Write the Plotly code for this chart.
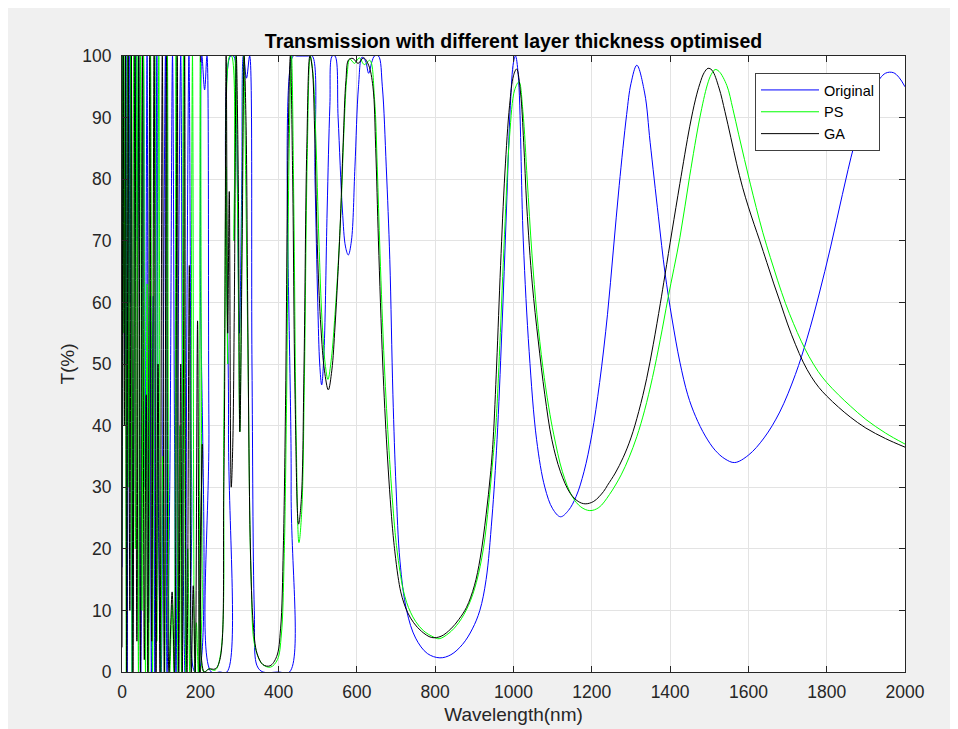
import plotly.graph_objects as go

# ---------------- data ----------------
wl_orig = [0,4,7,10,13,18,20,23,26,31,36,39,42,48,55,59,64,68,72,75,80,84,89,94,100,105,111,115,122,129,134,138,144,150,156,161,166,171,178,186,195,200,204,211,217,222,228,250,268,272,277,285,292,300,306,310,318,326,332,338,345,360,400,428,432,437,447,460,475,486,493,500,505,510,516,524,531,537,544,552,563,571,578,586,595,604,613,622,630,638,645,655,665,675,684,692,700,710,727,750,780,812,840,870,895,914,930,945,958,970,982,992,1000,1005,1012,1025,1040,1059,1080,1100,1120,1140,1160,1180,1200,1220,1240,1255,1270,1289,1300,1315,1335,1349,1370,1387,1405,1425,1445,1465,1490,1515,1540,1565,1600,1640,1680,1720,1750,1780,1810,1840,1870,1900,1925,1950,1970,1985,2000]
t_orig = [17,100,50,100,0,100,60,100,0,45,100,70,100,0,100,30,100,8,61,0,61,0,100,20,0,45,100,0,30,100,40,0,60,100,20,0,60,100,30,0,0,70,100,94.5,100,40,0,0,0,40,100,100,90,55,80,100,96.4,100,50,10,1,0,0,0,30,100,100,100,100,100,80,60,50,46.6,52,75,92,100,100,90,75,69,67.7,70,82,95,99.8,99.2,97.2,99,100,100,95,82,67,45,30,18,10,5.5,3,2.3,2.8,4.5,7,10,15,25,37.7,55,75,92,99,100,97,70,52,37.7,30,26.5,25.2,26.2,28.5,32.5,38.5,47,58,68.5,79,90.5,95.5,98.5,94,86,74,64.8,57.3,50.3,45,41.5,38.3,36,34.6,34,35.2,38,42.2,48.3,54.2,61.2,69,77.5,85.5,91.8,95.3,97.2,97.3,96.5,95]

wl_ps = [0,2,5,8,11,14,18,22,26,30,34,38,42,47,51,55,60,64,68,73,78,84,89,94,99,104,109,116,122,128,133,138,143,148,152,157,163,168,173,180,186,190,195,200,205,209,222,238,252,260,266,270,275,280,286,290,296,301,306,311,316,322,330,340,360,380,397,407,414,420,427,433,439,445,452,459,466,473,481,488,495,503,511,519,526,535,544,552,560,567,575,582,594,606,619,633,645,652,659,670,682,695,702,710,718,727,737,750,770,795,810,835,860,885,905,923,937,948,955,965,977,990,1003,1014,1024,1035,1047,1060,1075,1090,1103,1125,1150,1172,1195,1218,1245,1275,1295,1315,1335,1355,1375,1395,1425,1450,1476,1495,1505,1515,1525,1545,1560,1575,1590,1605,1620,1637,1656,1675,1695,1715,1735,1755,1778,1800,1830,1860,1900,1950,2000]
t_ps = [20,100,55,100,0,100,30,100,0,100,20,100,0,100,10,100,0,63,0,100,0,100,5,100,0,35,0,100,0,11,0,100,0,40,0,100,0,20,0,100,0,8,0,100,15,0,0.5,0.3,3,40,82,50,100,100,70,100,70,39,70,100,80,50,15,4,1.2,0.8,2,6,18,42,85,100,75,38,21,26,48,83,100,97,87,70,57,50,47.5,51,58,66,76,88,97,99.5,98.8,99.7,98.6,99.3,93,82,68,50,36,24.5,20,16.3,13.4,11.3,9.7,8.2,6.7,5.7,5.4,6.3,8,10.8,14.5,20,27.5,35,40,53,71,87,94.5,95.8,91,80,68,58,49.5,43,38.5,32.5,28.5,26.8,26.2,26.7,28.8,32,34.8,38.2,42.5,47.8,54,60.8,70.5,80.5,90,95.3,97,97.8,97.5,95.2,91.5,87.3,83.2,79.2,75.4,71.3,67.3,63.5,59.8,56.6,53.7,51.2,48.8,47,45,43.2,41,38.8,37]

wl_ga = [0,3,6,9,12,16,20,24,28,33,38,43,47,52,57,62,66,71,76,82,87,92,97,103,108,114,120,128,134,141,145,150,154,160,163,166,172,177,182,187,193,198,205,210,222,238,250,260,266,270,274,279,283,287,292,297,301,307,312,317,321,328,335,345,360,378,395,405,412,418,424,430,436,442,451,458,465,472,480,486,492,500,508,517,527,536,544,551,557,565,572,579,590,603,617,630,641,648,655,666,677,690,697,705,712,720,730,745,765,791,815,840,860,880,900,915,930,941,948,957,967,978,990,1000,1008,1018,1026,1034,1048,1063,1080,1098,1120,1145,1165,1183,1205,1230,1240,1260,1280,1300,1320,1340,1357,1375,1387,1405,1425,1450,1465,1476,1487,1497,1507,1525,1540,1555,1570,1585,1600,1615,1629,1647,1665,1683,1700,1720,1740,1760,1780,1800,1830,1860,1900,1950,2000]
t_ga = [4,100,40,100,0,100,10,100,0,100,5,100,0,100,2,45,0,100,5,100,0,50,0,100,0,100,0,13,0,100,0,50,0,100,14,0,66,0,14,0,57,0,37,0,0.5,0.5,2,30,100,55,78,30,37,60,100,80,39,70,100,88.5,60,20,8,3,1.2,1,2.5,7,20,45,85,100,80,45,24,28,50,85,100,98,88,67,56,49,45.8,49,56,64,72,86,96,99.4,99.6,98.8,99.7,98.5,95,85,70,50,36,24,19.5,15.5,13,11.2,9.6,8,6.6,5.6,5.8,7,8.5,10.5,14,18.5,25.5,32,37.7,50,66,81,92,96.8,97.9,94,86,75.5,63,53.9,45,37.7,32.5,29,27.7,27.3,27.7,29.3,30.3,32.3,34.8,38,42.3,47.6,53.2,59.8,64.5,71.6,79.3,88.5,93,95.5,97.3,98,97.7,94.8,91,86.8,82.5,78.7,75.5,72.6,70,66.5,63,59.7,56.5,53.2,50.3,48,46.2,44.8,43,41.4,39.6,37.9,36.5]

x_ticks = [0, 200, 400, 600, 800, 1000, 1200, 1400, 1600, 1800, 2000]
y_ticks = [0, 10, 20, 30, 40, 50, 60, 70, 80, 90, 100]

series = [
    ("Original", wl_orig, t_orig, "#0000ff"),
    ("PS", wl_ps, t_ps, "#00ff00"),
    ("GA", wl_ga, t_ga, "#000000"),
]

fig = go.Figure()
for name, xs, ys, col in series:
    fig.add_trace(go.Scatter(x=xs, y=ys, name=name, mode="lines",
                             line=dict(color=col, width=1, shape="spline", smoothing=1.0)))

# the page body adds an 8 px white margin at the top/left; the figure runs past the window
W, H = 960, 729
ml, mr, mt, mb = 114, 63, 48, 65
PW, PH = W - ml - mr, H - mt - mb
TXT = "#262626"
FONT = "Liberation Sans, Arial, Helvetica, sans-serif"

axis_common = dict(
    showgrid=True, gridcolor="#e3e3e3", gridwidth=1,
    showline=True, linecolor=TXT, linewidth=1, mirror="ticks",
    ticks="inside", ticklen=6, tickcolor=TXT, tickwidth=1,
    zeroline=False, tickfont=dict(family=FONT, size=17.5, color=TXT),
)

fig.update_layout(
    width=W, height=H,
    margin=dict(l=ml, r=mr, t=mt, b=mb, autoexpand=False),
    paper_bgcolor="#f0f0f0", plot_bgcolor="#ffffff",
    font=dict(family=FONT, color=TXT),
    title=dict(text="<b>Transmission with different layer thickness optimised</b>",
               x=(ml + PW / 2) / W, xanchor="center",
               y=1 - 33 / H, yanchor="middle",
               font=dict(family=FONT, size=19.5, color="#000000")),
    xaxis=dict(range=[0, 2000], tickvals=x_ticks, ticktext=[str(v) for v in x_ticks],
               title=dict(text="Wavelength(nm)", font=dict(family=FONT, size=19, color=TXT), standoff=6),
               ticklabelstandoff=4, automargin=False, **axis_common),
    yaxis=dict(range=[0, 100], tickvals=y_ticks, ticktext=[str(v) for v in y_ticks],
               title=dict(text="T(%)", font=dict(family=FONT, size=19, color=TXT), standoff=2),
               ticklabelstandoff=6, automargin=False, **axis_common),
    legend=dict(x=(755 - 122) / PW, y=(672 - 73) / PH,
                xanchor="left", yanchor="top",
                bgcolor="#ffffff", bordercolor="#404040", borderwidth=1,
                font=dict(family=FONT, size=14.5, color="#000000"),
                itemwidth=58, tracegroupgap=0),
    showlegend=True,
)

fig.write_html("out.html",
               post_script="document.documentElement.style.overflow='hidden';document.body.style.overflow='hidden';")
